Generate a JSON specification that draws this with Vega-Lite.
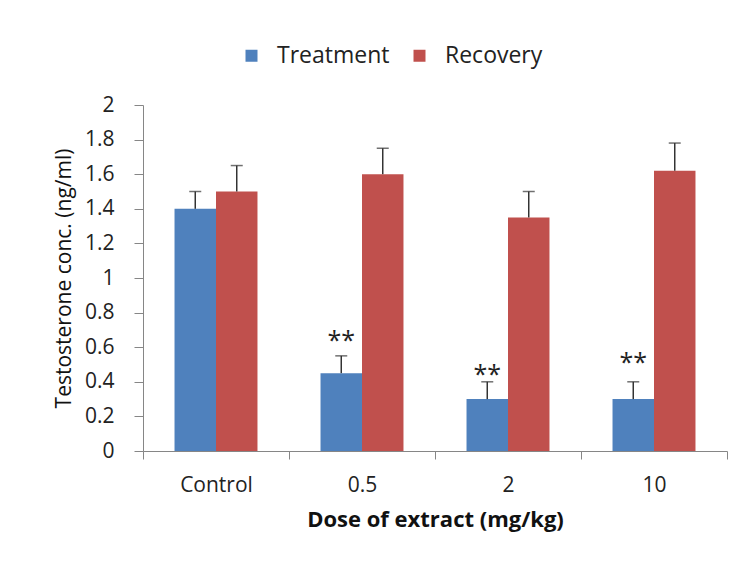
{
  "$schema": "https://vega.github.io/schema/vega-lite/v6.json",
  "autosize": {"type": "none"},
  "padding": {"left": 143, "top": 105, "right": 18, "bottom": 120},
  "width": 584,
  "height": 346,
  "background": "white",
  "config": {
    "font": "Open Sans",
    "view": {"stroke": null},
    "axis": {"grid": false, "domainColor": "#868686", "tickColor": "#868686", "labelColor": "#222222", "titleColor": "#111111", "labelFont": "Open Sans", "titleFont": "Open Sans", "labelOverlap": false, "labelFlush": false},
    "axisY": {"tickCount": 10, "format": ".1~f", "tickSize": 9, "labelPadding": 20, "labelFontSize": 21, "titleFontSize": 21, "titleFontWeight": "normal", "titlePadding": 10}
  },
  "data": {
    "values": [
      {"dose": "Control", "group": "Treatment", "value": 1.40, "upper": 1.50, "sig": "", "sig_y": 0},
      {"dose": "Control", "group": "Recovery", "value": 1.50, "upper": 1.65, "sig": "", "sig_y": 0},
      {"dose": "0.5", "group": "Treatment", "value": 0.45, "upper": 0.55, "sig": "**", "sig_y": 0.665},
      {"dose": "0.5", "group": "Recovery", "value": 1.60, "upper": 1.75, "sig": "", "sig_y": 0},
      {"dose": "2", "group": "Treatment", "value": 0.30, "upper": 0.40, "sig": "**", "sig_y": 0.47},
      {"dose": "2", "group": "Recovery", "value": 1.35, "upper": 1.50, "sig": "", "sig_y": 0},
      {"dose": "10", "group": "Treatment", "value": 0.30, "upper": 0.40, "sig": "**", "sig_y": 0.54},
      {"dose": "10", "group": "Recovery", "value": 1.62, "upper": 1.78, "sig": "", "sig_y": 0}
    ]
  },
  "encoding": {
    "x": {
      "field": "dose", "type": "nominal", "sort": ["Control", "0.5", "2", "10"],
      "scale": {"paddingInner": 0, "paddingOuter": 0},
      "axis": {
        "title": "Dose of extract (mg/kg)", "labelAngle": 0, "tickBand": "extent",
        "tickSize": 8, "labelPadding": 15, "labelFontSize": 21,
        "titleFontSize": 22, "titleFontWeight": "bold", "titlePadding": 14
      }
    },
    "xOffset": {
      "field": "group", "type": "nominal", "sort": ["Treatment", "Recovery"],
      "scale": {"paddingInner": 0, "paddingOuter": 0.76}
    }
  },
  "layer": [
    {
      "mark": {"type": "bar"},
      "encoding": {
        "y": {
          "field": "value", "type": "quantitative",
          "scale": {"domain": [0, 2], "nice": false},
          "axis": {"title": "Testosterone conc. (ng/ml)"}
        },
        "color": {
          "field": "group", "type": "nominal", "sort": ["Treatment", "Recovery"],
          "scale": {"domain": ["Treatment", "Recovery"], "range": ["#4F81BD", "#C0504D"]},
          "legend": {
            "title": null, "orient": "none", "direction": "horizontal",
            "legendX": 97, "legendY": -61, "padding": 0,
            "symbolType": "square", "symbolSize": 144, "symbolStrokeWidth": 0,
            "labelFontSize": 23, "labelFont": "Open Sans", "labelColor": "#222222",
            "labelOffset": 14, "columnPadding": 18
          }
        }
      }
    },
    {
      "mark": {"type": "rule", "color": "#333333", "strokeWidth": 1.5},
      "encoding": {
        "y": {"field": "value", "type": "quantitative", "axis": {"title": "Testosterone conc. (ng/ml)"}},
        "y2": {"field": "upper"}
      }
    },
    {
      "mark": {"type": "tick", "color": "#333333", "thickness": 1.5, "size": 12, "orient": "horizontal"},
      "encoding": {
        "y": {"field": "upper", "type": "quantitative", "axis": {"title": "Testosterone conc. (ng/ml)"}}
      }
    },
    {
      "transform": [{"filter": "datum.sig != ''"}],
      "mark": {"type": "text", "fontSize": 25, "baseline": "alphabetic", "dy": 13, "align": "center", "color": "#222222", "font": "Open Sans"},
      "encoding": {
        "y": {"field": "sig_y", "type": "quantitative", "axis": {"title": "Testosterone conc. (ng/ml)"}},
        "text": {"field": "sig"}
      }
    }
  ]
}
